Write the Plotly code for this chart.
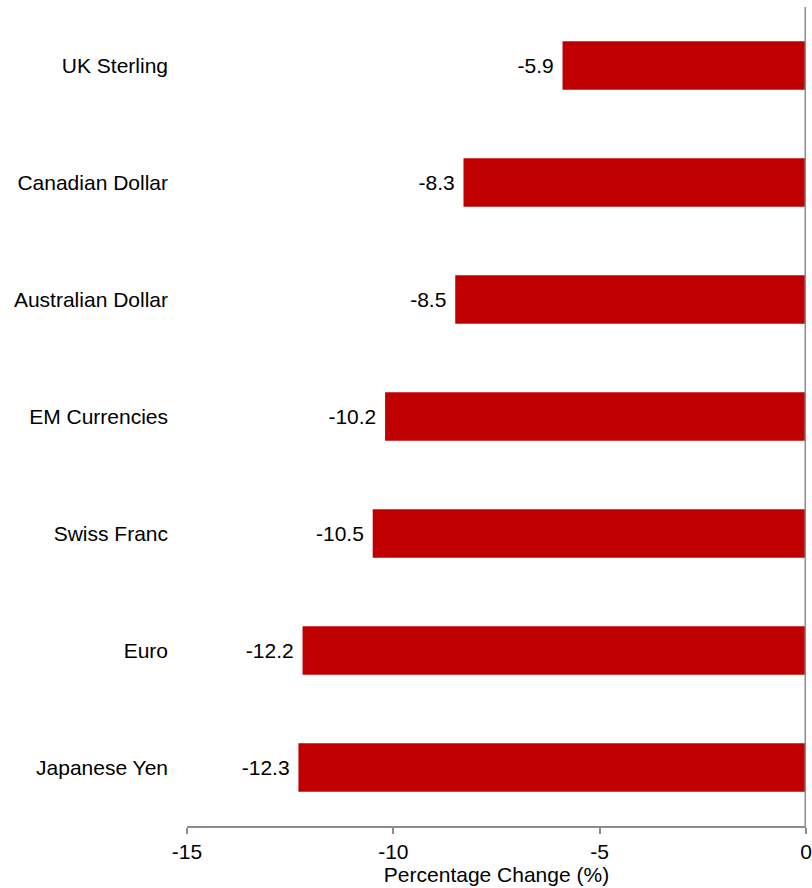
import plotly.graph_objects as go

categories = ["UK Sterling", "Canadian Dollar", "Australian Dollar", "EM Currencies",
              "Swiss Franc", "Euro", "Japanese Yen"]
values = [-5.9, -8.3, -8.5, -10.2, -10.5, -12.2, -12.3]
x_ticks = [-15, -10, -5, 0]

FONT = "Liberation Sans, Arial, sans-serif"
FS = 21

fig = go.Figure(go.Bar(
    y=categories, x=values, orientation="h",
    marker=dict(color="#C00000", line=dict(width=0)),
    text=[f"{v:.1f}\u00a0" for v in values], textposition="outside",
    textfont=dict(family=FONT, size=FS, color="black"),
    cliponaxis=False,
))

fig.update_layout(
    width=812, height=888,
    margin=dict(l=187, r=6, t=7, b=62),
    paper_bgcolor="white", plot_bgcolor="white",
    bargap=0.585,
    showlegend=False,
    font=dict(family=FONT, size=FS, color="black"),
    xaxis=dict(
        range=[-15, 0], tickvals=x_ticks, ticktext=[str(t) for t in x_ticks],
        showgrid=False, zeroline=False, automargin=False,
        showline=True, linecolor="#8c8c8c", linewidth=2,
        ticks="outside", ticklen=6, tickwidth=2, tickcolor="#8c8c8c",
        title=dict(text="Percentage Change (%)", standoff=0, font=dict(size=FS)),
        tickfont=dict(size=FS),
    ),
    yaxis=dict(
        categoryorder="array", categoryarray=categories, autorange="reversed",
        showgrid=False, zeroline=False, showline=False, ticks="", automargin=False,
        ticklabelstandoff=18, tickfont=dict(size=FS),
    ),
    shapes=[dict(type="line", xref="x", yref="paper", x0=0, x1=0, y0=0, y1=1,
                 line=dict(color="#8c8c8c", width=3))],
)

fig.write_html("out.html")
